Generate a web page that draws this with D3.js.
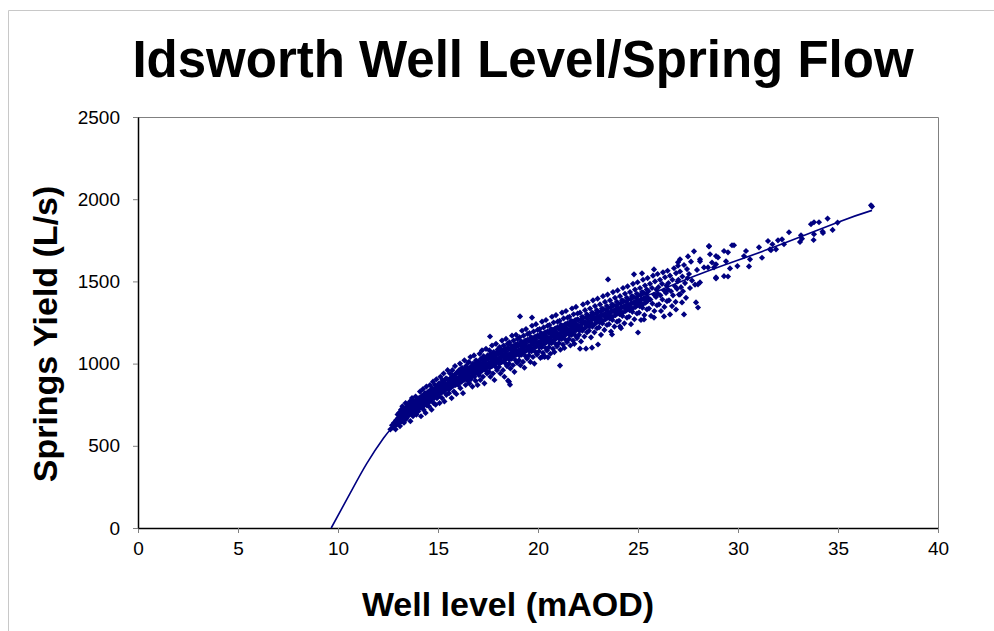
<!DOCTYPE html>
<html>
<head>
<meta charset="utf-8">
<title>Idsworth Well Level/Spring Flow</title>
<script src="https://d3js.org/d3.v7.min.js"></script>
<style>
  body { margin: 0; background: #fff; }
  svg text { font-family: "Liberation Sans", Arial, sans-serif; }
</style>
</head>
<body>
<div id="chart"></div>
<script>

// tick values
var xTicks = [0, 5, 10, 15, 20, 25, 30, 35, 40];
var yTicks = [0, 500, 1000, 1500, 2000, 2500];

// trendline
var trendX = [9.66, 10.61, 11.45, 12.28, 12.7, 13.5, 15, 17.5, 20, 22.5, 25, 28.1, 31.5, 35, 36.7];
var trendY = [0, 212, 395, 547, 608, 700, 845, 1020, 1150, 1270, 1390, 1545, 1695, 1860, 1932];

// observations [well level, springs yield]
var obs = [
  [12.62,600],[12.7,625],[12.75,610],[12.8,640],[12.85,622],[12.9,655],[12.95,630],[13.0,668],[12.88,600],[12.98,690],
  [13.02,640],[13.05,700],[13.08,665],[13.1,620],[13.12,685],[13.15,720],[13.18,650],[13.2,690],[13.22,740],[13.25,675],[13.28,705],[13.3,640],[13.32,725],[13.35,690],[13.38,760],[13.4,700],[13.42,665],[13.45,735],[13.48,710],[13.5,680],
  [13.52,745],[13.55,690],[13.57,720],[13.6,770],[13.62,650],[13.65,735],[13.68,700],[13.7,790],[13.72,755],[13.75,680],[13.78,725],[13.8,770],[13.82,740],[13.85,705],[13.88,800],[13.9,760],[13.92,690],[13.95,735],[13.98,780],[14.0,745],
  [14.02,710],[14.05,790],[14.08,760],[14.1,830],[14.12,735],[14.15,680],[14.18,775],[14.2,805],[14.22,750],[14.25,845],[14.28,720],[14.3,790],[14.32,765],[14.35,820],[14.38,700],[14.4,785],[14.42,860],[14.45,745],[14.48,800],[14.5,770],
  [14.52,830],[14.55,740],[14.57,800],[14.6,870],[14.62,775],[14.65,815],[14.68,720],[14.7,850],[14.72,795],[14.75,890],[14.78,760],[14.8,830],[14.82,810],[14.85,870],[14.88,750],[14.9,845],[14.92,905],[14.95,790],[14.98,825],[15.0,860],
  [15.02,800],[15.05,880],[15.08,760],[15.1,845],[15.12,920],[15.15,820],[15.18,870],[15.2,790],[15.22,900],[15.25,850],[15.28,940],[15.3,830],[15.32,770],[15.35,880],[15.38,855],[15.4,910],[15.42,810],[15.45,870],[15.48,960],[15.5,845],
  [15.52,900],[15.55,820],[15.57,870],[15.6,940],[15.62,850],[15.65,905],[15.68,790],[15.7,880],[15.72,960],[15.75,865],[15.78,920],[15.8,830],[15.82,895],[15.85,985],[15.88,870],[15.9,940],[15.92,815],[15.95,910],[15.98,880],[16.0,950],
  [16.02,870],[16.05,960],[16.08,905],[16.1,1000],[16.12,850],[16.15,935],[16.18,890],[16.2,975],[16.22,920],[16.25,820],[16.28,955],[16.3,900],[16.32,1020],[16.35,940],[16.38,870],[16.4,985],[16.42,930],[16.45,960],[16.48,895],[16.5,1005],
  [16.52,930],[16.55,1010],[16.57,880],[16.6,960],[16.62,1040],[16.65,905],[16.68,985],[16.7,945],[16.72,860],[16.75,1000],[16.78,950],[16.8,1050],[16.82,920],[16.85,975],[16.88,895],[16.9,1020],[16.92,960],[16.95,990],[16.98,870],[17.0,940],
  [17.02,1010],[17.05,930],[17.08,1060],[17.1,980],[17.12,900],[17.15,1030],[17.18,960],[17.2,1080],[17.22,995],[17.25,920],[17.28,1045],[17.3,985],[17.32,880],[17.35,1020],[17.38,960],[17.4,1090],[17.42,1000],[17.45,940],[17.48,1050],[17.5,985],
  [17.52,1030],[17.55,950],[17.57,1080],[17.6,1000],[17.62,920],[17.65,1060],[17.68,985],[17.7,1110],[17.72,1020],[17.75,940],[17.78,1070],[17.8,1010],[17.82,900],[17.85,1045],[17.88,980],[17.9,1120],[17.92,1030],[17.95,960],[17.98,1085],[18.0,1010],[17.6,1165],
  [18.02,1060],[18.05,980],[18.08,1100],[18.1,1030],[18.12,940],[18.15,1085],[18.18,1010],[18.2,1140],[18.22,1050],[18.25,960],[18.28,1110],[18.3,1040],[18.32,920],[18.35,1075],[18.38,1000],[18.4,1150],[18.42,1060],[18.45,985],[18.48,1120],[18.5,1035],[18.5,896],[18.6,872],[18.55,890],
  [18.52,1090],[18.55,1000],[18.57,1130],[18.6,1050],[18.62,970],[18.65,1110],[18.68,1030],[18.7,1170],[18.72,1075],[18.75,990],[18.78,1140],[18.8,1060],[18.82,950],[18.85,1100],[18.88,1020],[18.9,1175],[18.92,1080],[18.95,1005],[18.98,1150],[19.0,1065],
  [19.02,1110],[19.05,1020],[19.08,1160],[19.1,1080],[19.12,990],[19.15,1135],[19.18,1055],[19.2,1200],[19.22,1100],[19.25,1010],[19.28,1170],[19.3,1085],[19.32,975],[19.35,1125],[19.38,1045],[19.4,1210],[19.42,1105],[19.45,1030],[19.48,1180],[19.5,1095],[19.1,1287],[19.7,1280],
  [19.52,1140],[19.55,1050],[19.57,1185],[19.6,1100],[19.62,1010],[19.65,1160],[19.68,1075],[19.7,1230],[19.72,1125],[19.75,1040],[19.78,1195],[19.8,1110],[19.82,1000],[19.85,1150],[19.88,1070],[19.9,1240],[19.92,1130],[19.95,1055],[19.98,1205],[20.0,1120],
  [20.02,1165],[20.05,1075],[20.08,1210],[20.1,1125],[20.12,1035],[20.15,1185],[20.18,1100],[20.2,1255],[20.22,1150],[20.25,1065],[20.28,1220],[20.3,1135],[20.32,1040],[20.35,1175],[20.38,1095],[20.4,1265],[20.42,1155],[20.45,1080],[20.48,1230],[20.5,1145],[20.2,1040],[20.35,1043],[20.5,1038],
  [20.52,1190],[20.55,1100],[20.57,1235],[20.6,1150],[20.62,1060],[20.65,1210],[20.68,1125],[20.7,1285],[20.72,1175],[20.75,1090],[20.78,1250],[20.8,1160],[20.82,1070],[20.85,1200],[20.88,1120],[20.9,1295],[20.92,1180],[20.95,1105],[20.98,1255],[21.0,1170],
  [21.02,1215],[21.05,1125],[21.08,1260],[21.1,1175],[21.12,1085],[21.15,1235],[21.18,1150],[21.2,1310],[21.22,1200],[21.25,1115],[21.28,1275],[21.3,1185],[21.32,1095],[21.35,1225],[21.38,1145],[21.4,1320],[21.42,1205],[21.45,1130],[21.48,1280],[21.5,1195],[21.1,988],
  [21.52,1240],[21.55,1150],[21.57,1285],[21.6,1200],[21.62,1110],[21.65,1260],[21.68,1175],[21.7,1335],[21.72,1225],[21.75,1140],[21.78,1300],[21.8,1210],[21.82,1120],[21.85,1250],[21.88,1170],[21.9,1345],[21.92,1230],[21.95,1155],[21.98,1305],[22.0,1220],
  [22.02,1265],[22.05,1175],[22.1,1310],[22.12,1225],[22.15,1135],[22.2,1285],[22.22,1200],[22.25,1360],[22.3,1250],[22.32,1165],[22.35,1325],[22.4,1235],[22.42,1280],[22.45,1190],[22.48,1370],[22.5,1255],[22.1,1091],[22.4,1091],[22.7,1097],[23.0,1116],
  [22.52,1290],[22.55,1200],[22.6,1335],[22.62,1250],[22.65,1160],[22.7,1310],[22.72,1225],[22.75,1385],[22.8,1275],[22.82,1190],[22.85,1350],[22.9,1260],[22.92,1305],[22.95,1215],[22.98,1395],[23.0,1280],
  [23.02,1315],[23.05,1220],[23.1,1360],[23.12,1270],[23.15,1175],[23.2,1335],[23.22,1245],[23.25,1410],[23.3,1295],[23.32,1205],[23.35,1375],[23.4,1280],[23.42,1325],[23.45,1235],[23.48,1420],[23.5,1300],[23.5,1512],
  [23.52,1340],[23.55,1240],[23.6,1385],[23.62,1290],[23.65,1195],[23.7,1360],[23.72,1265],[23.75,1435],[23.8,1320],[23.82,1225],[23.85,1400],[23.9,1305],[23.92,1350],[23.95,1255],[23.98,1445],[24.0,1325],[23.7,1177],
  [24.02,1365],[24.05,1260],[24.1,1410],[24.12,1315],[24.15,1215],[24.2,1385],[24.22,1290],[24.25,1460],[24.3,1345],[24.32,1245],[24.35,1425],[24.4,1330],[24.42,1375],[24.45,1280],[24.48,1470],[24.5,1350],[24.1,1226],
  [24.52,1390],[24.55,1285],[24.6,1435],[24.62,1340],[24.65,1240],[24.7,1410],[24.72,1315],[24.75,1485],[24.8,1370],[24.82,1270],[24.85,1450],[24.9,1355],[24.92,1400],[24.95,1305],[24.98,1495],[25.0,1375],[24.8,1543],[25.0,1189],
  [25.02,1415],[25.05,1310],[25.1,1460],[25.12,1365],[25.15,1265],[25.2,1435],[25.22,1340],[25.25,1510],[25.3,1395],[25.32,1295],[25.35,1475],[25.4,1380],[25.42,1425],[25.45,1330],[25.48,1520],[25.5,1400],[25.2,1549],[25.3,1268],
  [25.52,1440],[25.55,1335],[25.6,1485],[25.62,1390],[25.65,1290],[25.7,1460],[25.72,1365],[25.75,1535],[25.8,1420],[25.82,1320],[25.85,1500],[25.9,1405],[25.92,1450],[25.95,1355],[25.98,1545],[26.0,1425],[25.8,1573],[25.8,1280],
  [26.02,1465],[26.05,1360],[26.1,1510],[26.12,1415],[26.15,1320],[26.2,1485],[26.22,1390],[26.25,1555],[26.3,1445],[26.32,1345],[26.35,1525],[26.4,1430],[26.42,1475],[26.45,1380],[26.48,1565],[26.5,1450],[26.3,1287],
  [26.52,1490],[26.55,1385],[26.6,1535],[26.65,1440],[26.7,1350],[26.72,1510],[26.75,1415],[26.8,1580],[26.85,1470],[26.88,1375],[26.9,1550],[26.95,1455],[26.98,1500],[27.0,1595],[26.6,1299],[26.9,1329],[27.0,1616],
  [27.02,1510],[27.05,1420],[27.1,1560],[27.15,1465],[27.2,1372],[27.22,1530],[27.25,1440],[27.3,1600],[27.35,1490],[27.4,1400],[27.45,1575],[27.48,1520],[27.1,1634],[27.1,1421],[27.3,1299],
  [27.55,1545],[27.6,1460],[27.65,1620],[27.7,1505],[27.8,1683],[27.85,1480],[27.9,1372],[27.95,1570],[27.5,1652],[28.0,1341],[28.0,1482],
  [28.1,1634],[28.1,1622],[28.1,1494],[28.3,1585],[28.5,1585],[28.55,1713],[28.55,1715],[28.6,1665],[28.7,1615],[28.8,1585],[28.9,1654],[28.9,1604],[28.9,1524],[28.9,1518],[29.0,1646],
  [29.3,1685],[29.3,1532],[29.4,1622],[29.5,1677],[29.5,1530],[29.6,1579],[29.7,1720],[29.8,1720],[29.97,1593],[30.3,1654],[30.4,1685],[30.55,1591],[30.6,1634],
  [31.05,1707],[31.2,1644],[31.5,1746],[31.6,1695],[31.65,1690],[31.72,1726],[31.9,1695],[32.0,1750],[32.2,1756],[32.3,1726],[32.55,1799],
  [33.15,1780],[33.1,1740],[33.2,1760],[33.65,1848],[33.78,1752],[33.8,1860],[33.8,1787],[34.05,1860],[34.23,1803],[34.25,1795],[34.48,1882],[34.73,1813],[34.98,1858],
  [36.65,1963],[36.7,1955],
  // second pass through the dense core
  [13.04,670],[13.09,640],[13.13,705],[13.17,675],[13.21,660],[13.26,715],[13.29,690],[13.33,655],[13.36,720],[13.41,685],[13.44,700],[13.47,750],
  [13.53,715],[13.58,745],[13.61,700],[13.66,760],[13.69,725],[13.73,710],[13.77,775],[13.81,745],[13.84,730],[13.89,770],[13.93,720],[13.97,755],
  [14.04,760],[14.07,730],[14.11,790],[14.16,770],[14.19,740],[14.24,800],[14.27,765],[14.31,745],[14.36,810],[14.39,780],[14.43,760],[14.47,820],
  [14.54,800],[14.58,770],[14.61,835],[14.66,805],[14.69,785],[14.74,845],[14.77,815],[14.81,790],[14.86,850],[14.89,825],[14.93,805],[14.97,865],
  [15.04,840],[15.07,815],[15.11,875],[15.16,850],[15.19,830],[15.24,890],[15.27,860],[15.31,835],[15.36,900],[15.39,870],[15.43,850],[15.47,905],
  [15.54,880],[15.58,850],[15.61,910],[15.66,885],[15.69,865],[15.74,925],[15.77,895],[15.81,870],[15.86,935],[15.89,905],[15.93,885],[15.97,945],
  [16.04,915],[16.07,885],[16.11,945],[16.16,920],[16.19,900],[16.24,960],[16.27,930],[16.31,905],[16.36,970],[16.39,940],[16.43,915],[16.47,975],
  [16.54,945],[16.58,915],[16.61,975],[16.66,950],[16.69,925],[16.74,990],[16.77,960],[16.81,935],[16.86,1000],[16.89,970],[16.93,945],[16.97,1010],
  [17.04,975],[17.07,945],[17.11,1005],[17.16,980],[17.19,955],[17.24,1020],[17.27,990],[17.31,965],[17.36,1030],[17.39,1000],[17.43,975],[17.47,1040],
  [17.54,1005],[17.58,975],[17.61,1035],[17.66,1010],[17.69,985],[17.74,1050],[17.77,1020],[17.81,995],[17.86,1060],[17.89,1030],[17.93,1005],[17.97,1070],
  [18.04,1030],[18.07,1000],[18.11,1065],[18.16,1040],[18.19,1010],[18.24,1080],[18.27,1050],[18.31,1020],[18.36,1090],[18.39,1060],[18.43,1030],[18.47,1095],
  [18.54,1055],[18.58,1025],[18.61,1090],[18.66,1065],[18.69,1035],[18.74,1105],[18.77,1075],[18.81,1045],[18.86,1115],[18.89,1085],[18.93,1055],[18.97,1120],
  [19.04,1080],[19.07,1050],[19.11,1115],[19.16,1090],[19.19,1060],[19.24,1130],[19.27,1100],[19.31,1070],[19.36,1140],[19.39,1110],[19.43,1080],[19.47,1145],
  [19.54,1105],[19.58,1075],[19.61,1140],[19.66,1115],[19.69,1085],[19.74,1155],[19.77,1125],[19.81,1095],[19.86,1165],[19.89,1135],[19.93,1105],[19.97,1170],
  [20.04,1130],[20.07,1100],[20.11,1165],[20.16,1140],[20.19,1110],[20.24,1180],[20.27,1150],[20.31,1120],[20.36,1190],[20.39,1160],[20.43,1130],[20.47,1195],
  [20.54,1155],[20.58,1125],[20.61,1190],[20.66,1165],[20.69,1135],[20.74,1205],[20.77,1175],[20.81,1145],[20.86,1215],[20.89,1185],[20.93,1155],[20.97,1220],
  [21.04,1180],[21.07,1150],[21.11,1215],[21.16,1190],[21.19,1160],[21.24,1230],[21.27,1200],[21.31,1170],[21.36,1240],[21.39,1210],[21.43,1180],[21.47,1245],
  [21.54,1205],[21.58,1175],[21.61,1240],[21.66,1215],[21.69,1185],[21.74,1255],[21.77,1225],[21.81,1195],[21.86,1265],[21.89,1235],[21.93,1205],[21.97,1270],
  [22.04,1230],[22.08,1200],[22.14,1265],[22.18,1240],[22.24,1210],[22.28,1280],[22.34,1250],[22.38,1220],[22.44,1300],[22.47,1230],
  [22.54,1255],[22.58,1225],[22.64,1290],[22.68,1265],[22.74,1235],[22.78,1305],[22.84,1280],[22.88,1245],[22.94,1325],[22.97,1255],
  [23.04,1280],[23.08,1250],[23.14,1315],[23.18,1290],[23.24,1260],[23.28,1330],[23.34,1300],[23.38,1270],[23.44,1350],[23.47,1280],
  [23.54,1305],[23.58,1275],[23.64,1340],[23.68,1315],[23.74,1285],[23.78,1355],[23.84,1325],[23.88,1295],[23.94,1375],[23.97,1305],
  [24.04,1330],[24.08,1300],[24.14,1365],[24.18,1340],[24.24,1310],[24.28,1380],[24.34,1350],[24.38,1320],[24.44,1400],[24.47,1330],
  [24.54,1355],[24.58,1325],[24.64,1390],[24.68,1365],[24.74,1335],[24.78,1405],[24.84,1375],[24.88,1345],[24.94,1425],[24.97,1355],
  [25.04,1380],[25.08,1350],[25.14,1415],[25.18,1390],[25.24,1360],[25.28,1430],[25.34,1400],[25.38,1370],[25.44,1450],[25.47,1380]
];

var W = 994, H = 631;
var navy = "#000080";

var svg = d3.select("#chart").append("svg")
  .attr("width", W)
  .attr("height", H);

svg.append("rect").attr("width", W).attr("height", H).attr("fill", "#fff");

// outer frame (only top + left visible in the original)
svg.append("path")
  .attr("d", "M8.5," + H + "V10.5H" + W)
  .attr("fill", "none")
  .attr("stroke", "#c8c8c8");

var x = d3.scaleLinear().domain([0, 40]).range([138, 938]);
var y = d3.scaleLinear().domain([0, 2500]).range([528, 117]);

// plot border: grey top/right, black axes
svg.append("path")
  .attr("d", "M" + x(0) + "," + (y(2500) + 0.5) + "H" + (x(40) + 0.5) + "V" + y(0))
  .attr("fill", "none")
  .attr("stroke", "#808080");

// x axis
var xAxis = svg.append("g")
  .attr("transform", "translate(0," + y(0) + ")")
  .call(d3.axisBottom(x).tickValues(xTicks).tickFormat(d3.format("d"))
    .tickSize(5).tickPadding(9).tickSizeOuter(0));
xAxis.select(".domain").attr("stroke", "#000").attr("stroke-width", 1.5);
xAxis.selectAll(".tick line").attr("stroke", "#808080");
xAxis.selectAll(".tick text").attr("font-size", 19).attr("fill", "#000");

// y axis
var yAxis = svg.append("g")
  .attr("transform", "translate(" + x(0) + ",0)")
  .call(d3.axisLeft(y).tickValues(yTicks).tickFormat(d3.format("d"))
    .tickSize(5).tickPadding(13).tickSizeOuter(0));
yAxis.select(".domain").attr("stroke", "#000").attr("stroke-width", 1.5);
yAxis.selectAll(".tick line").attr("stroke", "#808080");
yAxis.selectAll(".tick text").attr("font-size", 19).attr("fill", "#000");

// scatter points - square diamonds like the excel marker
svg.append("g")
  .selectAll("path")
  .data(obs)
  .enter()
  .append("path")
  .attr("d", d3.symbol().type(d3.symbolSquare).size(19))
  .attr("transform", function (d) { return "translate(" + x(d[0]) + "," + y(d[1]) + ") rotate(45)"; })
  .attr("fill", navy);

// trendline
var trend = trendX.map(function (v, i) { return [v, trendY[i]]; });
svg.append("path")
  .datum(trend)
  .attr("d", d3.line()
    .x(function (d) { return x(d[0]); })
    .y(function (d) { return y(d[1]); })
    .curve(d3.curveNatural))
  .attr("fill", "none")
  .attr("stroke", navy)
  .attr("stroke-width", 1.6);

// titles
svg.append("text")
  .attr("x", 523).attr("y", 77)
  .attr("text-anchor", "middle")
  .attr("font-size", 51).attr("font-weight", "bold")
  .text("Idsworth Well Level/Spring Flow");

svg.append("text")
  .attr("x", 508).attr("y", 616)
  .attr("text-anchor", "middle")
  .attr("font-size", 34).attr("font-weight", "bold")
  .text("Well level (mAOD)");

svg.append("text")
  .attr("transform", "translate(57,334) rotate(-90)")
  .attr("text-anchor", "middle")
  .attr("font-size", 34).attr("font-weight", "bold")
  .text("Springs Yield (L/s)");

</script>
</body>
</html>
